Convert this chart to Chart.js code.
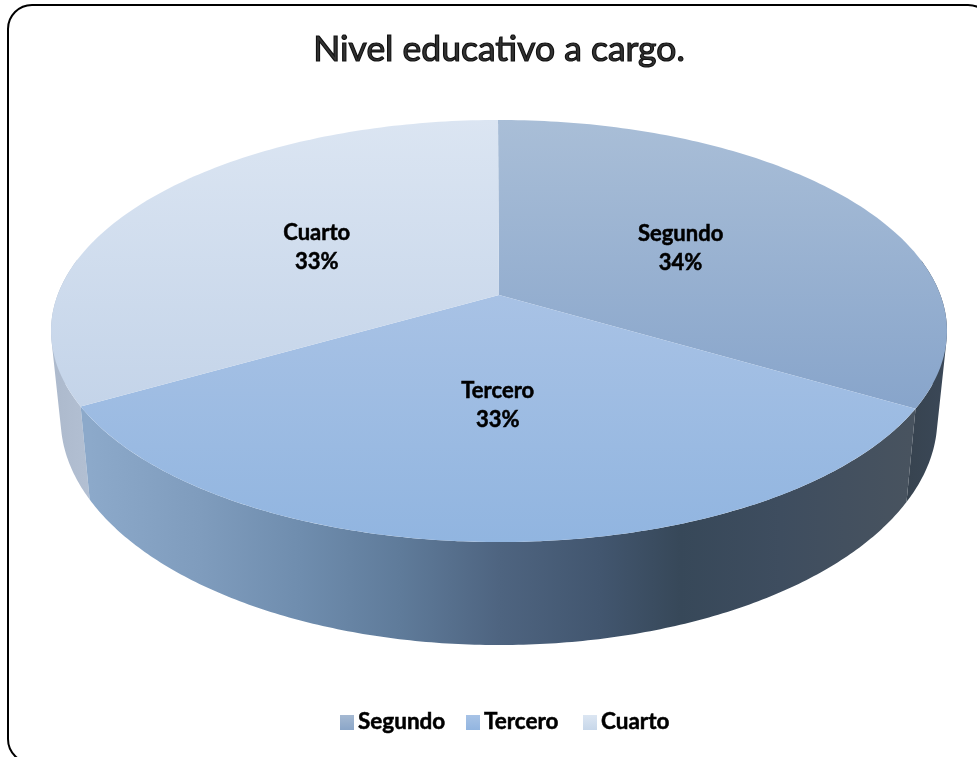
<!DOCTYPE html>
<html><head><meta charset="utf-8">
<style>html,body{margin:0;padding:0;background:#fff}canvas{display:block}</style>
<script src="https://cdn.jsdelivr.net/npm/chart.js@4"></script>
</head><body>
<canvas id="c" width="977" height="757"></canvas>
<script>
const titleText = 'Nivel educativo a cargo.';
const categories = ['Segundo', 'Tercero', 'Cuarto'];
const values = [33.5, 33.25, 33.25];
const percentLabels = ['34%', '33%', '33%'];

const topDisk = {x: 499, y: 295, a: 441.4, b: 204.9, k: 0.1706};
const baseDisk = {x: 499, y: 380, a: 432, b: 220, k: 0.17};
const labelNudge = [[-2, 2.5], [0, -2], [1, 1.5]];
const legendX = [340, 466, 583];
const TITLE_FONT = {family: 'Lato', size: 35.5, weight: '400', lineHeight: 1.2};
const TITLE_PAD = {top: 28.5, bottom: 10};

function proj(d, ang, r) {
  const u = Math.cos(ang) * r, v = Math.sin(ang) * r, w = 1 - d.k * v;
  return [d.x + d.a * u / w, d.y + d.b * v / w];
}
function lin(ctx, x0, y0, x1, y1, stops) {
  const g = ctx.createLinearGradient(x0, y0, x1, y1);
  stops.forEach(s => g.addColorStop(s[0], s[1]));
  return g;
}
const topStops = [
  [[120, '#a9bed7'], [405, '#88a5cb']],
  [[296, '#a8c2e5'], [542, '#91b5e0']],
  [[120, '#dbe5f2'], [405, '#c4d4e9']]
];
const swatchStops = [
  [[0, '#a5b9d2'], [1, '#8ba6c8']],
  [[0, '#a8c3e6'], [1, '#92b5e0']],
  [[0, '#dce6f2'], [1, '#c7d7ea']]
];
function wallGradient(ctx, i) {
  if (i === 0) return lin(ctx, 905, 0, 950, 0, [[0, '#37434f'], [1, '#3b4858']]);
  if (i === 2) return lin(ctx, 50, 0, 92, 0, [[0, '#acb9cc'], [1, '#b3c0d3']]);
  const s = (x, c) => [(x - 80) / 840, c];
  return lin(ctx, 80, 0, 920, 0, [
    s(90, '#8ca9ca'), s(200, '#7f9cbd'), s(300, '#6f8dae'), s(400, '#5f7b9a'),
    s(500, '#4e6480'), s(600, '#42566f'), s(680, '#374859'), s(780, '#3e4d5f'), s(910, '#48535f')
  ]);
}

// Slices keep the library's own angles; only their drawing is put in perspective.
Chart.ArcElement.prototype.draw = function (ctx) {
  const {startAngle, endAngle} = this.getProps(['startAngle', 'endAngle']);
  ctx.save();
  ctx.beginPath();
  const c = proj(topDisk, 0, 0);
  ctx.moveTo(c[0], c[1]);
  const n = 120;
  for (let i = 0; i <= n; i++) {
    const p = proj(topDisk, startAngle + (endAngle - startAngle) * i / n, 1);
    ctx.lineTo(p[0], p[1]);
  }
  ctx.closePath();
  ctx.fillStyle = this.options.backgroundColor;
  ctx.fill();
  ctx.restore();
};

function addQuad(ctx, p) {
  let area = 0;
  for (let i = 0; i < 4; i++) {
    const q = p[(i + 1) % 4];
    area += p[i][0] * q[1] - q[0] * p[i][1];
  }
  const o = area >= 0 ? p : p.slice().reverse();
  ctx.moveTo(o[0][0], o[0][1]);
  for (let i = 1; i < 4; i++) ctx.lineTo(o[i][0], o[i][1]);
  ctx.closePath();
}

const pie3d = {
  id: 'pie3d',
  beforeDraw(chart) {
    const ctx = chart.ctx;
    ctx.save();
    ctx.fillStyle = '#fff';
    ctx.fillRect(0, 0, chart.width, chart.height);
    ctx.strokeStyle = '#000';
    ctx.lineWidth = 2;
    ctx.beginPath();
    ctx.roundRect(8, 5, 984, 758, 24);
    ctx.stroke();
    ctx.restore();
  },
  beforeDatasetsDraw(chart) {
    const ctx = chart.ctx, arcs = chart.getDatasetMeta(0).data;
    [0, 2, 1].forEach(i => {
      const {startAngle, endAngle} = arcs[i].getProps(['startAngle', 'endAngle']);
      const n = 200;
      ctx.save();
      ctx.fillStyle = wallGradient(ctx, i);
      ctx.beginPath();
      for (let j = 0; j < n; j++) {
        const a0 = startAngle + (endAngle - startAngle) * j / n;
        const a1 = startAngle + (endAngle - startAngle) * (j + 1) / n;
        if (Math.sin(a0) < -0.17 && Math.sin(a1) < -0.17) continue;
        addQuad(ctx, [proj(topDisk, a0, 1), proj(topDisk, a1, 1), proj(baseDisk, a1, 1), proj(baseDisk, a0, 1)]);
      }
      ctx.fill('nonzero');
      ctx.restore();
    });
  },
  afterDatasetsDraw(chart) {
    const ctx = chart.ctx, arcs = chart.getDatasetMeta(0).data;
    ctx.save();
    ctx.textAlign = 'center';
    ctx.textBaseline = 'middle';
    ctx.font = '700 22px Lato';
    ctx.fillStyle = '#000';
    ctx.strokeStyle = '#000';
    ctx.lineWidth = 0.5;
    arcs.forEach((arc, i) => {
      const {startAngle, endAngle} = arc.getProps(['startAngle', 'endAngle']);
      const p = proj(topDisk, (startAngle + endAngle) / 2, 0.5);
      const x = p[0] + labelNudge[i][0], y = p[1] + labelNudge[i][1];
      ctx.fillText(categories[i], x, y - 14.5);
      ctx.strokeText(categories[i], x, y - 14.5);
      ctx.fillText(percentLabels[i], x, y + 14.5);
      ctx.strokeText(percentLabels[i], x, y + 14.5);
    });
    // legend
    ctx.textAlign = 'left';
    ctx.font = '700 22.5px Lato';
    categories.forEach((cat, i) => {
      const x = legendX[i];
      ctx.fillStyle = lin(ctx, 0, 715, 0, 730, swatchStops[i]);
      ctx.fillRect(x, 715, 14, 15);
      ctx.fillStyle = '#000';
      ctx.fillText(cat, x + 18, 722);
      ctx.strokeText(cat, x + 18, 722);
    });
    ctx.restore();
  },
  afterDraw(chart) {
    const t = chart.titleBlock, ctx = chart.ctx;
    ctx.save();
    ctx.font = `${TITLE_FONT.weight} ${TITLE_FONT.size}px ${TITLE_FONT.family}`;
    ctx.textAlign = 'center';
    ctx.textBaseline = 'middle';
    ctx.strokeStyle = '#111';
    ctx.lineWidth = 1.2;
    ctx.strokeText(titleText, t.left + t.width / 2,
      t.top + TITLE_PAD.top + TITLE_FONT.size * TITLE_FONT.lineHeight / 2);
    ctx.restore();
  }
};

new Chart(document.getElementById('c'), {
  type: 'pie',
  data: {
    labels: categories,
    datasets: [{
      data: values,
      borderWidth: 0,
      backgroundColor: c => {
        const st = topStops[c.dataIndex] || topStops[0];
        return lin(c.chart.ctx, 0, st[0][0], 0, st[1][0], [[0, st[0][1]], [1, st[1][1]]]);
      }
    }]
  },
  options: {
    responsive: false,
    animation: false,
    rotation: -0.15,
    layout: {padding: {left: 21}},
    plugins: {
      legend: {display: false},
      tooltip: {enabled: false},
      title: {
        display: true,
        text: titleText,
        color: '#333',
        font: TITLE_FONT,
        padding: TITLE_PAD
      }
    }
  },
  plugins: [pie3d]
});
</script>
</body></html>
